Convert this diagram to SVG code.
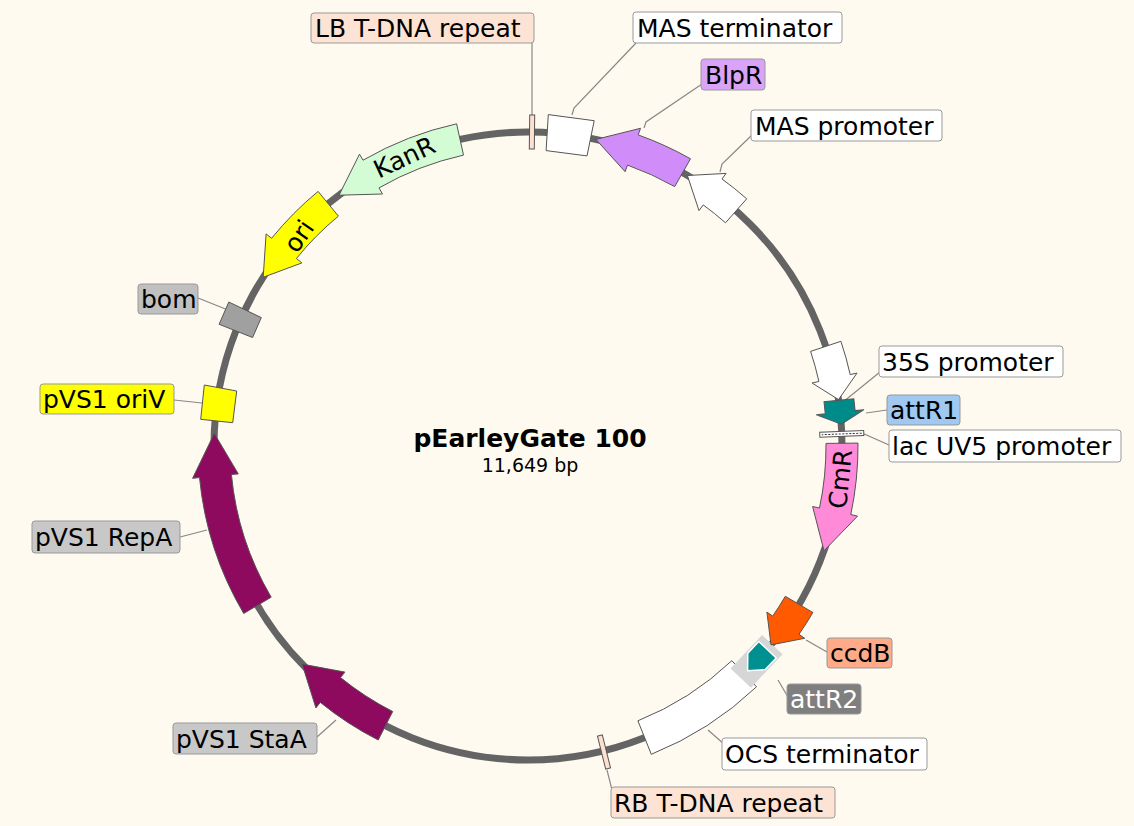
<svg xmlns="http://www.w3.org/2000/svg" width="1134" height="826" viewBox="0 0 1134 826">
<style>
.f{stroke:#555;stroke-width:1}
.lb{stroke:#999;stroke-width:1;rx:3}
.t{font-family:"DejaVu Sans",Verdana,sans-serif;font-size:25px;fill:#000}
.ld{stroke:#888;stroke-width:1.2;fill:none}
</style>
<rect width="1134" height="826" fill="#fffaef"/>
<circle cx="528" cy="446" r="314" fill="none" stroke="#646464" stroke-width="7"/>
<g id="connectors">
<path class="ld" d="M532,43V115"/>
<path class="ld" d="M636,43L574,108L572,115"/>
<path class="ld" d="M702,84L646,122L644,128"/>
<path class="ld" d="M752,135L722,164L720,172"/>
<path class="ld" d="M880,372L843,402"/>
<path class="ld" d="M887,410L866,413"/>
<path class="ld" d="M889,445L862,433"/>
<path class="ld" d="M827,652L806,640"/>
<path class="ld" d="M788,697L778,680"/>
<path class="ld" d="M724,744L708,730"/>
<path class="ld" d="M612,790L607,770"/>
<path class="ld" d="M317,737L336,720"/>
<path class="ld" d="M180,537L207,530"/>
<path class="ld" d="M174,400L202,403"/>
<path class="ld" d="M198,298L228,310"/>
</g>
<g id="LB"><rect x="529.5" y="115" width="5" height="34" fill="#fde0d0" class="f" transform="rotate(0.7 532 132)"/></g>
<g id="MASterm"><polygon points="548.3,114.6 594.2,120.7 587,155.9 546.1,150.6" fill="#fff" class="f"/></g>
<g id="BlpR"><path d="M690.5,158.8A330,330 0 0 0 638.2,134.9L640.5,128.3L595.9,139.4L625.1,171.7L627.5,165.1A298,298 0 0 1 674.7,186.6Z" fill="#d08cf8" class="f"/></g>
<g id="MASprom"><path d="M746.7,198.8A330,330 0 0 0 722,179L726.1,173.4L687.4,175.5L699,210.6L703.2,204.9A298,298 0 0 1 725.5,222.8Z" fill="#fff" class="f"/></g>
<g id="KanR"><path d="M456.6,123.8A330,330 0 0 0 363,160.2L359.5,154.2L339,195.2L382.5,194L379,187.9A298,298 0 0 1 463.5,155.1Z" fill="#d4fcd4" class="f"/>
<text class="t" text-anchor="middle" transform="translate(408,165) rotate(-25)">KanR</text></g>
<g id="ori"><path d="M318.1,191.4A330,330 0 0 0 271.6,238.3L266.1,233.9L263.2,277.3L301.9,262.9L296.4,258.5A298,298 0 0 1 338.4,216.1Z" fill="#ffff00" class="f"/>
<text class="t" text-anchor="middle" transform="translate(306,241) rotate(-55)">ori</text></g>
<g id="bom"><polygon points="228.8,302 219.1,324.3 252.6,337.5 261.3,317.6" fill="#a0a0a0" class="f"/></g>
<g id="oriV"><polygon points="204.3,385 236.7,391 232.7,422.7 200.7,419.3" fill="#ffff00" class="f"/></g>
<g id="RepA"><path d="M214.3,433.4L238.3,473.9L231.4,474.5A298,298 0 0 0 271.2,597.2L243.7,613.5A330,330 0 0 1 199.5,477.6L192.6,478.3Z" fill="#8e0a5e" class="f"/></g>
<g id="StaA"><path d="M302.1,664.1L344.9,672.1L340.5,677.6A298,298 0 0 0 392.7,711.5L378.2,740A330,330 0 0 1 320.3,702.4L315.9,707.9Z" fill="#8e0a5e" class="f"/></g>
<g id="RB"><rect x="601.5" y="735" width="5" height="34" fill="#fde0d0" class="f" transform="rotate(-14 604 752)"/></g>
<g id="OCS"><path d="M756.5,686.8A332,332 0 0 1 651.3,754.3L637.9,720.8A296,296 0 0 0 731.8,660.7Z" fill="#fff" class="f"/></g>
<g id="attR2" transform="rotate(133.3 528 446)"><rect x="505" y="118" width="46" height="28" fill="#d6d6d6"/>
<polygon points="512,120 528,120 541,132 528,144 512,144" fill="#009090" stroke="#fff" stroke-width="1.5"/></g>
<g id="ccdB"><path d="M785.3,596.3A298,298 0 0 1 772.7,616.1L766.9,612.1L771,644.9L804.7,638.3L799,634.3A330,330 0 0 0 812.9,612.5Z" fill="#ff5a00" class="f"/></g>
<g id="CmR"><path d="M826,443.4A298,298 0 0 1 819.5,508L812.6,506.5L824,550.8L857.6,516.1L850.8,514.6A330,330 0 0 0 858,443.1Z" fill="#ff8ad8" class="f"/>
<text class="t" text-anchor="middle" transform="translate(849,480) rotate(-84)">CmR</text></g>
<g id="lacUV5" transform="rotate(87.8 528 446)"><rect x="525.5" y="110" width="5" height="44" fill="#fff" class="f"/><line x1="528" y1="112" x2="528" y2="152" stroke="#333" stroke-dasharray="2 1.5"/></g>
<g id="attR1" transform="rotate(84 528 446)"><path d="M515,117L527,117L527,108L539,132L527,156L527,147L515,147Z" fill="#008b8b" class="f"/></g>
<g id="p35S"><path d="M810.6,351.4A298,298 0 0 1 818.9,381.5L812.1,383L838.5,399.6L857,373.1L850.2,374.6A330,330 0 0 0 840.9,341.3Z" fill="#fff" class="f"/></g>
<g id="labels">
<g id="lLB"><rect class="lb" x="311" y="13" width="223" height="30" fill="#fde3d3"/><text class="t" x="315" y="37">LB T-DNA repeat</text></g>
<g id="lMASt"><rect class="lb" x="633" y="12" width="209" height="31" fill="#fff"/><text class="t" x="637" y="37">MAS terminator</text></g>
<g id="lBlpR"><rect class="lb" x="701" y="59" width="64" height="31" fill="#d9a3f7"/><text class="t" x="705" y="84">BlpR</text></g>
<g id="lMASp"><rect class="lb" x="751" y="110" width="191" height="31" fill="#fff"/><text class="t" x="755" y="135">MAS promoter</text></g>
<g id="l35S"><rect class="lb" x="879" y="346" width="184" height="31" fill="#fff"/><text class="t" x="882" y="371">35S promoter</text></g>
<g id="lattR1"><rect class="lb" x="887" y="395" width="73" height="30" fill="#a0c8f0"/><text class="t" x="890" y="419">attR1</text></g>
<g id="llac"><rect class="lb" x="889" y="430" width="232" height="32" fill="#fff"/><text class="t" x="892" y="455">lac UV5 promoter</text></g>
<g id="lccdB"><rect class="lb" x="827" y="638" width="65" height="30" fill="#ffaa88"/><text class="t" x="830" y="662">ccdB</text></g>
<g id="lattR2"><rect class="lb" x="787" y="684" width="74" height="30" fill="#7f7f7f"/><text class="t" x="790" y="708" style="fill:#fff">attR2</text></g>
<g id="lOCS"><rect class="lb" x="722" y="738" width="205" height="32" fill="#fff"/><text class="t" x="725" y="763">OCS terminator</text></g>
<g id="lRB"><rect class="lb" x="611" y="787" width="224" height="31" fill="#fde3d3"/><text class="t" x="614" y="812">RB T-DNA repeat</text></g>
<g id="lStaA"><rect class="lb" x="173" y="723" width="144" height="31" fill="#c8c8c8"/><text class="t" x="176" y="748">pVS1 StaA</text></g>
<g id="lRepA"><rect class="lb" x="32" y="521" width="148" height="32" fill="#c8c8c8"/><text class="t" x="35" y="546">pVS1 RepA</text></g>
<g id="loriV"><rect class="lb" x="40" y="384" width="134" height="30" fill="#ffff00"/><text class="t" x="43" y="408">pVS1 oriV</text></g>
<g id="lbom"><rect class="lb" x="138" y="284" width="60" height="30" fill="#c0c0c0"/><text class="t" x="141" y="308">bom</text></g>
</g>
<g id="title">
<text x="530" y="447" text-anchor="middle" style="font-family:'DejaVu Sans',Verdana,sans-serif;font-weight:bold;font-size:25px">pEarleyGate 100</text>
<text x="530" y="472" text-anchor="middle" style="font-family:'DejaVu Sans',Verdana,sans-serif;font-size:19px">11,649 bp</text>
</g>
</svg>
